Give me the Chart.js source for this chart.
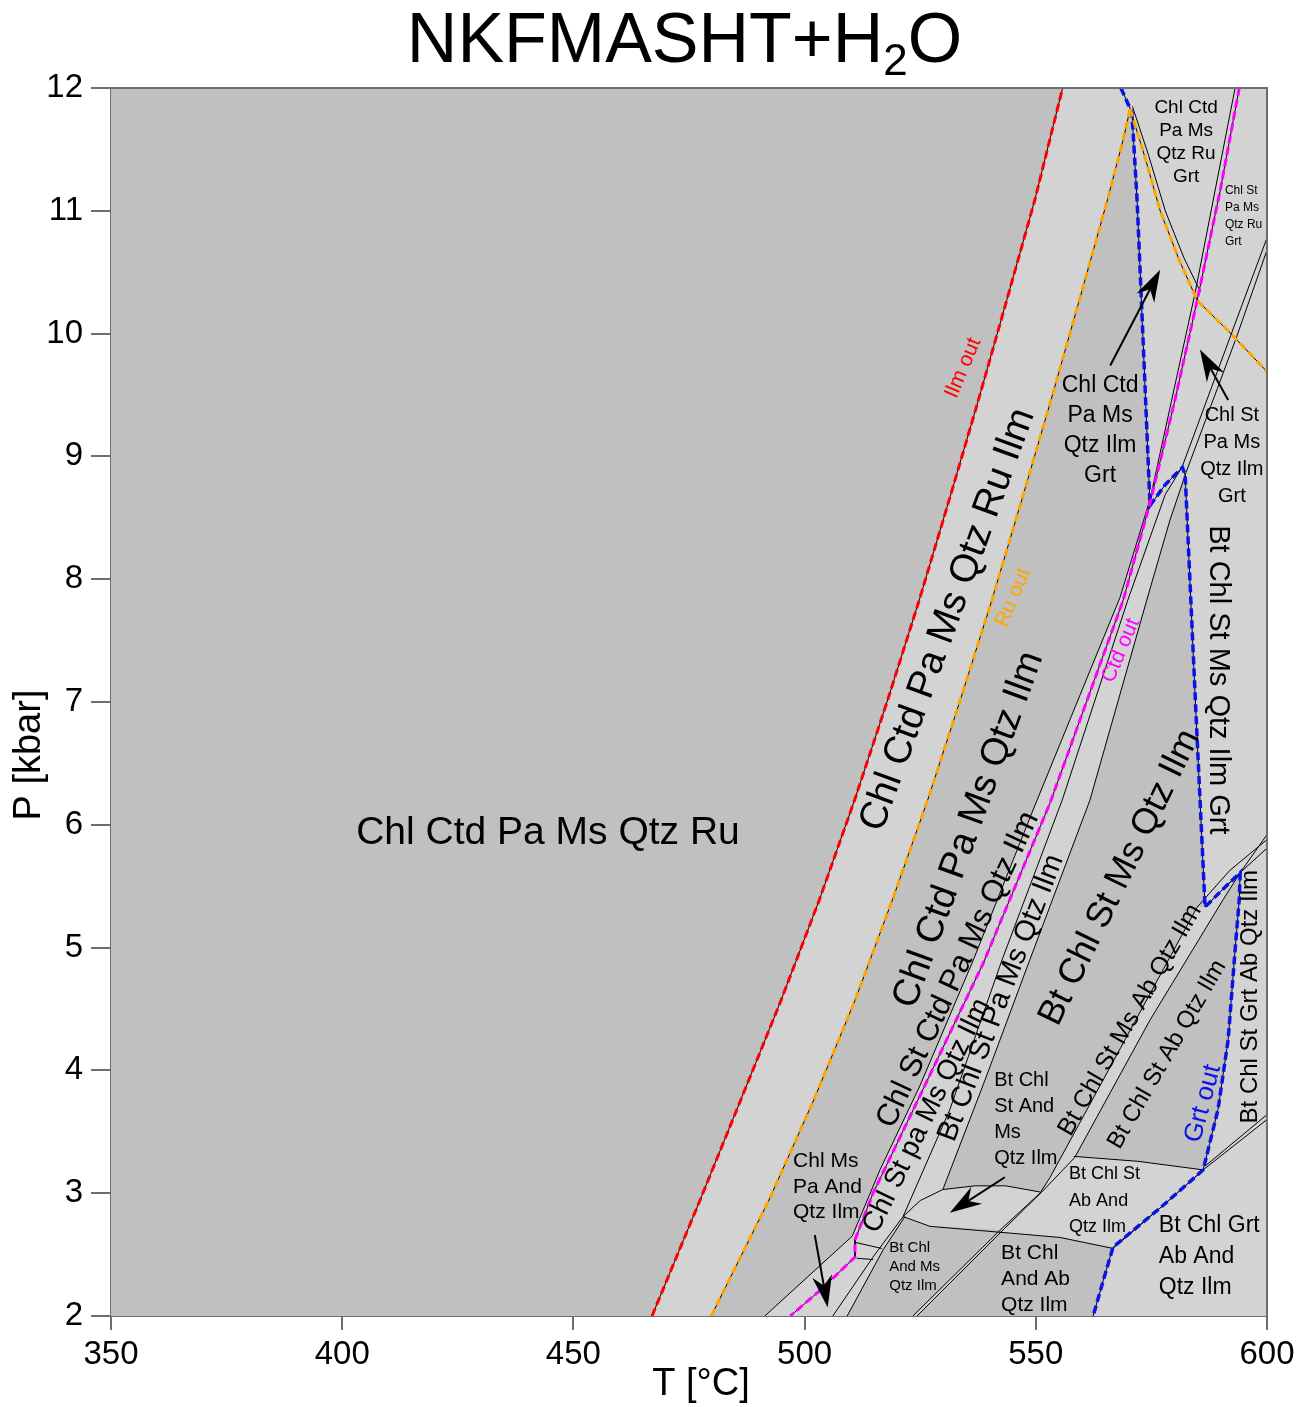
<!DOCTYPE html>
<html>
<head>
<meta charset="utf-8">
<script src="https://cdn.jsdelivr.net/npm/chart.js@4.4.1/dist/chart.umd.min.js"></script>
<style>
  html, body { margin: 0; padding: 0; background: #ffffff; }
  #wrap { width: 1316px; height: 1407px; }
</style>
</head>
<body>
<div id="wrap"><canvas id="c" width="1316" height="1407"></canvas></div>
<script>
// ---- axes ----
const tempTicks = [350, 400, 450, 500, 550, 600];
const presTicks = [2, 3, 4, 5, 6, 7, 8, 9, 10, 11, 12];

// ---- reaction lines, [T °C, P kbar] ----
const ilmOut   = [[467.0,2.0],[477.4,2.945],[486.2,3.76],[494.9,4.57],[503.2,5.39],[510.8,6.20],[518.0,7.02],[524.8,7.83],[531.3,8.65],[537.6,9.46],[543.7,10.27],[549.8,11.09],[555.8,12.0]];
const ruOutLow = [[479.8,2.0],[492.3,2.945],[502.0,3.76],[510.9,4.57],[519.0,5.39],[526.6,6.20],[533.7,7.02],[540.5,7.83],[547.0,8.65],[553.3,9.46],[559.4,10.27],[565.5,11.09],[568.9,11.58],[570.4,11.83]];
const ruOutHigh= [[570.4,11.83],[573.5,11.45],[576.9,11.0],[581.0,10.6],[584.9,10.27],[592.2,10.0],[600,9.69]];
const ruGrtEdge= [[570.9,11.85],[574.4,11.45],[578.0,11.0],[582.0,10.62],[585.6,10.34]];
const grtLine  = [[568.4,12.0],[570.8,11.80],[571.9,11.09],[573.2,9.95],[574.7,8.60],[578.0,8.77],[581.7,8.91],[582.3,8.85],[584.5,7.02],[586.6,5.33],[590.3,5.47],[594.2,5.61],[594.0,5.39],[593.1,4.98],[591.6,4.25],[589.4,3.68],[586.2,3.19],[576.9,2.88],[566.7,2.56],[564.6,2.29],[562.4,2.0]];
const ctdOut   = [[594.0,12.0],[589.9,11.17],[584.9,10.27],[580.1,9.46],[574.7,8.62],[568.9,7.83],[553.1,6.18],[538.6,4.87],[523.5,3.68],[514.8,3.00],[510.9,2.62],[510.9,2.48],[503.4,2.21],[496.9,2.0]];
const stIn     = [[510.3,2.65],[516.3,3.19],[525.0,3.88],[536.5,4.90],[549.4,6.12],[559.6,7.06],[568.2,7.85],[574.7,8.65],[582.7,10.03],[584.5,10.34],[593.1,12.0]];
const btInA    = [[506.1,2.0],[514.8,2.48],[521.3,2.81],[531.4,3.68],[542.7,4.90],[555.7,6.20],[569.9,7.83],[578.0,8.69],[581.6,8.91],[592.4,10.01],[600,10.78]];
const btInB    = [[529.9,3.03],[539.0,3.92],[548.7,4.90],[561.7,6.20],[574.0,7.83],[579.0,8.48],[582.5,8.87],[593.3,9.96],[600,10.68]];
const andLow   = [[491.4,2.0],[510.3,2.65]];
const andMs    = [[509.2,2.0],[517.0,2.54],[521.7,2.81]];
const lensTop  = [[521.3,2.81],[525.0,2.94],[529.9,3.03],[536.9,3.06],[543.5,3.06],[550.9,3.01]];
const lensBase = [[521.3,2.81],[527.1,2.73],[542.9,2.68],[555.2,2.64],[566.7,2.55]];
const stAbTop  = [[558.2,3.30],[572.0,3.26],[586.2,3.19]];
const abLeft   = [[523.4,2.0],[542.3,2.70],[550.9,3.00],[553.1,3.13],[569.3,4.25],[584.9,5.33],[592.0,5.63],[600,5.88]];
const abRight  = [[524.3,2.0],[542.9,2.70],[551.3,3.01],[558.4,3.29],[574.7,4.41],[590.5,5.39],[594.2,5.61],[600,5.81]];
const lensRight= [[586.6,5.33],[590.3,5.47],[594.2,5.61],[600,5.92]];
const andHigh  = [[566.7,2.55],[576.9,2.88],[586.2,3.19],[600,3.60]];
const andHigh2 = [[586.6,3.22],[600,3.64]];
const stubA    = [[510.9,2.60],[516.7,2.55]];
const stubB    = [[511.3,2.47],[514.8,2.46]];

// ---- fields shaded darker ----
const rev = a => a.slice().reverse();
const darkFields = [
  [[350,2], ...ilmOut, [350,12]],
  [[479.8,2], ...andLow, ...stIn.slice(1,8), grtLine[3], grtLine[2], ...rev(ruOutLow)],
  [...btInB.slice(0,7), ...grtLine.slice(7,10), ...rev(abLeft.slice(2,6)), ...rev(lensTop.slice(2))],
  [[509.2,2], ...abLeft.slice(0,2), ...rev(lensBase.slice(0,3)).slice(1), ...rev(andMs)],
  [abRight[0], [562.4,2], grtLine[19], grtLine[18], ...rev(lensBase.slice(1,4)), abRight[1]],
  [...abRight.slice(3,7), ...grtLine.slice(12,17), ...rev(stAbTop)]
];

// ---- phase-field names: [T, P], angle in degrees ----
const fieldNames = [
  { text: ['Chl Ctd Pa Ms Qtz Ru'], at: [444.5, 5.93], size: 39, angle: 0 },
  { text: ['Chl Ctd Pa Ms Qtz Ru Ilm'], at: [531.0, 7.67], size: 39, angle: -70 },
  { text: ['Chl Ctd Pa Ms Qtz Ilm'], at: [535.5, 5.96], size: 38, angle: -70 },
  { text: ['Chl St Ctd Pa Ms Qtz Ilm'], at: [533.2, 4.82], size: 31, angle: -65 },
  { text: ['Chl St pa Ms Qtz Ilm'], at: [526.4, 3.63], size: 28, angle: -64 },
  { text: ['Bt Chl St Pa Ms Qtz Ilm'], at: [542.5, 4.59], size: 29, angle: -69 },
  { text: ['Bt Chl St Ms Qtz Ilm'], at: [568.2, 5.57], size: 36, angle: -64 },
  { text: ['Bt Chl St Ms Ab Qtz Ilm'], at: [570.4, 4.41], size: 25, angle: -60 },
  { text: ['Bt Chl St Ab Qtz Ilm'], at: [578.4, 4.13], size: 24, angle: -60 },
  { text: ['Bt Chl St Grt Ab Qtz Ilm'], at: [596.3, 4.60], size: 24, angle: -90 },
  { text: ['Bt Chl St Ms Qtz Ilm Grt'], at: [589.4, 7.18], size: 29, angle: 90 },
  { text: ['Grt out'], at: [586.2, 3.73], size: 26, angle: -75, color: '#0a14e6' },
  { text: ['Ctd out'], at: [568.4, 7.42], size: 21, angle: -67, color: '#ff00ff' },
  { text: ['Ru out'], at: [545.1, 7.85], size: 21, angle: -67, color: '#ffa500' },
  { text: ['Ilm out'], at: [534.3, 9.72], size: 21, angle: -67, color: '#ff0000' },
  { text: ['Chl Ctd', 'Pa Ms', 'Qtz Ru', 'Grt'], at: [582.5, 11.56], size: 19, lead: 23 },
  { text: ['Chl St', 'Pa Ms', 'Qtz Ru', 'Grt'], at: [590.9, 10.96], size: 12, lead: 17, align: 'left' },
  { text: ['Chl Ctd', 'Pa Ms', 'Qtz Ilm', 'Grt'], at: [563.9, 9.21], size: 23, lead: 30 },
  { text: ['Chl St', 'Pa Ms', 'Qtz Ilm', 'Grt'], at: [592.4, 9.00], size: 20, lead: 27 },
  { text: ['Chl Ms', 'Pa And', 'Qtz Ilm'], at: [497.5, 3.05], size: 21, lead: 25.5, align: 'left' },
  { text: ['Bt Chl', 'St And', 'Ms', 'Qtz Ilm'], at: [541.0, 3.60], size: 20, lead: 26, align: 'left' },
  { text: ['Bt Chl', 'And Ms', 'Qtz Ilm'], at: [518.3, 2.40], size: 15, lead: 19, align: 'left' },
  { text: ['Bt Chl', 'And Ab', 'Qtz Ilm'], at: [542.5, 2.30], size: 21, lead: 26, align: 'left' },
  { text: ['Bt Chl St', 'Ab And', 'Qtz Ilm'], at: [557.2, 2.94], size: 18, lead: 26.5, align: 'left' },
  { text: ['Bt Chl Grt', 'Ab And', 'Qtz Ilm'], at: [576.6, 2.48], size: 23, lead: 31, align: 'left' }
];

// ---- pointers from names to small fields ----
const pointers = [
  { from: [566.1, 9.74], to: [576.9, 10.52] },
  { from: [591.6, 9.46], to: [585.5, 9.87] },
  { from: [543.3, 3.13], to: [531.4, 2.84] },
  { from: [502.2, 2.66], to: [505.0, 2.07] }
];

const DARK = '#c0c0c0';
const LIGHT = '#d3d3d3';
const FRAME = '#6e6e6e';
const FONT = "'Liberation Sans', Arial, sans-serif";

const asPts = a => a.map(([x, y]) => ({ x, y }));
const common = { showLine: true, pointRadius: 0, pointHoverRadius: 0, tension: 0 };
const fillSet = poly => ({ ...common, data: asPts(poly), fill: 'shape', backgroundColor: DARK,
  borderColor: 'rgba(0,0,0,0)', borderWidth: 0, order: 300 });
const edgeSet = line => ({ ...common, data: asPts(line), fill: false, borderColor: '#000000',
  borderWidth: 1, order: 200 });
const dashSet = (line, color, w) => ({ ...common, data: asPts(line), fill: false, borderColor: color,
  borderWidth: w, borderDash: [8, 4], order: 100 });

const edges = [ilmOut, ruOutLow, ruOutHigh, ruGrtEdge, grtLine, ctdOut, stIn, btInA, btInB, andLow,
  andMs, lensTop, lensBase, stAbTop, abLeft, abRight, lensRight, andHigh, andHigh2, stubA, stubB];

const datasets = [
  ...darkFields.map(fillSet),
  ...edges.map(edgeSet),
  dashSet(ilmOut, '#ff0000', 3),
  dashSet(ruOutLow, '#ffa500', 3),
  dashSet(ruOutHigh, '#ffa500', 3),
  dashSet(ctdOut, '#ff00ff', 3),
  dashSet(grtLine, '#0a14e6', 3.5)
];

const diagramDecor = {
  id: 'diagramDecor',
  beforeDatasetsDraw(chart) {
    const { ctx, chartArea: a } = chart;
    ctx.save();
    ctx.fillStyle = LIGHT;
    ctx.fillRect(a.left, a.top, a.right - a.left, a.bottom - a.top);
    ctx.restore();
  },
  afterDatasetsDraw(chart) {
    const { ctx, scales: { x, y } } = chart;
    // arrows
    ctx.save();
    ctx.strokeStyle = '#000'; ctx.fillStyle = '#000'; ctx.lineWidth = 2;
    pointers.forEach(p => {
      const x0 = x.getPixelForValue(p.from[0]), y0 = y.getPixelForValue(p.from[1]);
      const x1 = x.getPixelForValue(p.to[0]), y1 = y.getPixelForValue(p.to[1]);
      const ang = Math.atan2(y1 - y0, x1 - x0);
      const L = 32, W = 10, N = 22;
      const bx = x1 - N * Math.cos(ang), by = y1 - N * Math.sin(ang);
      ctx.beginPath(); ctx.moveTo(x0, y0); ctx.lineTo(bx, by); ctx.stroke();
      const cx = x1 - L * Math.cos(ang), cy = y1 - L * Math.sin(ang);
      ctx.beginPath();
      ctx.moveTo(x1, y1);
      ctx.lineTo(cx + W * Math.sin(ang), cy - W * Math.cos(ang));
      ctx.lineTo(bx, by);
      ctx.lineTo(cx - W * Math.sin(ang), cy + W * Math.cos(ang));
      ctx.closePath(); ctx.fill();
    });
    ctx.restore();
    // field names
    fieldNames.forEach(f => {
      const px = x.getPixelForValue(f.at[0]), py = y.getPixelForValue(f.at[1]);
      ctx.save();
      ctx.translate(px, py);
      ctx.rotate((f.angle || 0) * Math.PI / 180);
      ctx.font = f.size + 'px ' + FONT;
      ctx.fillStyle = f.color || '#000';
      ctx.textAlign = f.align || 'center';
      ctx.textBaseline = 'middle';
      const lead = f.lead || f.size * 1.2;
      const n = f.text.length;
      f.text.forEach((t, i) => ctx.fillText(t, 0, (i - (n - 1) / 2) * lead));
      ctx.restore();
    });
  },
  afterDraw(chart) {
    const { ctx, chartArea: a } = chart;
    ctx.save();
    // frame top and right
    ctx.strokeStyle = FRAME; ctx.lineWidth = 2;
    ctx.beginPath();
    ctx.moveTo(a.left, a.top); ctx.lineTo(a.right, a.top); ctx.lineTo(a.right, a.bottom);
    ctx.stroke();
    // title with subscript
    ctx.fillStyle = '#000';
    ctx.textBaseline = 'alphabetic';
    ctx.textAlign = 'left';
    const big = '70px ' + FONT, small = '44px ' + FONT;
    ctx.font = big; const w1 = ctx.measureText('NKFMASHT+H').width, w3 = ctx.measureText('O').width;
    ctx.font = small; const w2 = ctx.measureText('2').width;
    let tx = 684.5 - (w1 + w2 + w3) / 2;
    ctx.font = big; ctx.fillText('NKFMASHT+H', tx, 62); tx += w1;
    ctx.font = small; ctx.fillText('2', tx, 75); tx += w2;
    ctx.font = big; ctx.fillText('O', tx, 62);
    // axis titles
    ctx.font = '38px ' + FONT;
    ctx.textAlign = 'center'; ctx.textBaseline = 'middle';
    ctx.fillText('T [°C]', 701, 1385);
    ctx.translate(30, 755); ctx.rotate(-Math.PI / 2);
    ctx.fillText('P [kbar]', 0, 0);
    ctx.restore();
  }
};

Chart.defaults.font.family = FONT;

new Chart(document.getElementById('c'), {
  type: 'scatter',
  data: { datasets },
  options: {
    responsive: false,
    animation: false,
    events: [],
    layout: { padding: { top: 88, right: 49, left: 0, bottom: 0 } },
    plugins: { legend: { display: false }, tooltip: { enabled: false }, title: { display: false } },
    scales: {
      x: {
        type: 'linear', min: 350, max: 600,
        afterBuildTicks: s => { s.ticks = tempTicks.map(v => ({ value: v })); },
        afterFit: s => { s.height = 91; },
        ticks: { font: { size: 33 }, color: '#000', padding: 5, maxRotation: 0 },
        grid: { drawOnChartArea: false, drawTicks: true, tickLength: 14, color: FRAME, lineWidth: 2 },
        border: { color: FRAME, width: 2 }
      },
      y: {
        type: 'linear', min: 2, max: 12,
        afterBuildTicks: s => { s.ticks = presTicks.map(v => ({ value: v })); },
        afterFit: s => { s.width = 111; },
        ticks: { font: { size: 33 }, color: '#000', padding: 8 },
        grid: { drawOnChartArea: false, drawTicks: true, tickLength: 20, color: FRAME, lineWidth: 2 },
        border: { color: FRAME, width: 2 }
      }
    }
  },
  plugins: [diagramDecor]
});
</script>
</body>
</html>
